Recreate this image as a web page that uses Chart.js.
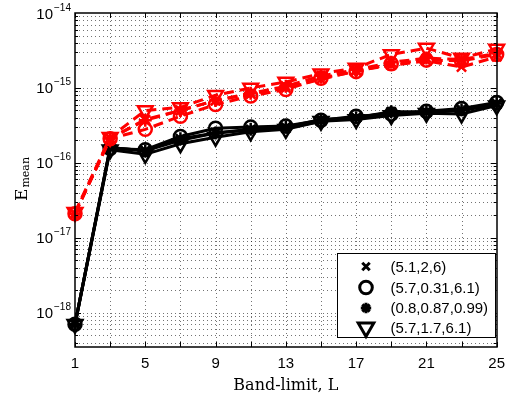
<!DOCTYPE html>
<html><head><meta charset="utf-8">
<script src="https://cdn.jsdelivr.net/npm/chart.js@4/dist/chart.umd.min.js"></script>
<style>html,body{margin:0;padding:0;background:#fff;overflow:hidden}canvas{display:block}</style>
</head><body>
<canvas id="c" width="513" height="395"></canvas>
<script>
// ---- data ----
const bandLimits = [1,3,5,7,9,11,13,15,17,19,21,23,25];
const xTickLabels = [1,5,9,13,17,21,25];
const yDecades = [-18,-17,-16,-15,-14];
const legendLabels = ['(5.1,2,6)','(5.7,0.31,6.1)','(0.8,0.87,0.99)','(5.7,1.7,6.1)'];
const xTitle = 'Band-limit, L';
const yTitleMain = 'E';
const yTitleSub = 'mean';

const blackCross    = [7.0e-19,1.60e-16,1.45e-16,2.00e-16,2.50e-16,2.75e-16,2.90e-16,3.60e-16,4.00e-16,4.70e-16,4.70e-16,5.00e-16,6.00e-16];
const blackCircle   = [7.0e-19,1.55e-16,1.50e-16,2.25e-16,2.90e-16,3.00e-16,3.10e-16,3.70e-16,4.20e-16,4.50e-16,4.90e-16,5.30e-16,6.40e-16];
const blackStar     = [7.0e-19,1.60e-16,1.45e-16,2.10e-16,2.50e-16,2.80e-16,3.00e-16,3.80e-16,4.00e-16,4.80e-16,4.80e-16,5.10e-16,6.20e-16];
const blackTriangle = [7.0e-19,1.50e-16,1.30e-16,1.80e-16,2.20e-16,2.60e-16,2.80e-16,3.60e-16,3.80e-16,4.30e-16,4.60e-16,4.50e-16,5.80e-16];

const redCross    = [2.1e-17,2.10e-16,3.80e-16,5.00e-16,6.80e-16,8.30e-16,1.00e-15,1.30e-15,1.70e-15,2.00e-15,2.30e-15,1.90e-15,2.60e-15];
const redCircle   = [2.1e-17,2.10e-16,2.80e-16,4.20e-16,6.00e-16,7.80e-16,9.50e-16,1.35e-15,1.65e-15,2.10e-15,2.35e-15,2.30e-15,2.80e-15];
const redStar     = [2.1e-17,2.15e-16,3.70e-16,5.00e-16,6.80e-16,8.50e-16,1.05e-15,1.45e-15,1.75e-15,2.20e-15,2.50e-15,2.40e-15,2.90e-15];
const redTriangle = [2.2e-17,2.20e-16,5.00e-16,5.50e-16,8.00e-16,1.00e-15,1.20e-15,1.55e-15,1.85e-15,2.80e-15,3.40e-15,2.50e-15,3.30e-15];

const Y_MIN = 3.49e-19, Y_MAX = 1e-14;

const markers = [
  {style:'crossRot', r:6.5, rot:0},
  {style:'circle',   r:6.5, rot:0},
  {style:'star',     r:6.5, rot:0},
  {style:'triangle', r:8.5, rot:180}
];

function ds(label, vals, color, dashed, m) {
  return {
    label, data: bandLimits.map((b,i)=>({x:b, y:vals[i]})),
    borderColor: color, backgroundColor: color, borderWidth: 3,
    borderDash: dashed ? [10,6] : [],
    pointStyle: m.style, pointRadius: m.r, pointRotation: m.rot,
    pointBorderColor: color, pointBackgroundColor: 'rgba(0,0,0,0)', pointBorderWidth: 2.5,
    pointHoverRadius: m.r, tension: 0, clip: false, fill: false
  };
}

const datasets = [
  ds('red '+legendLabels[0], redCross, '#ff0000', true, markers[0]),
  ds('red '+legendLabels[1], redCircle, '#ff0000', true, markers[1]),
  ds('red '+legendLabels[2], redStar, '#ff0000', true, markers[2]),
  ds('red '+legendLabels[3], redTriangle, '#ff0000', true, markers[3]),
  ds(legendLabels[0], blackCross, '#000000', false, markers[0]),
  ds(legendLabels[1], blackCircle, '#000000', false, markers[1]),
  ds(legendLabels[2], blackStar, '#000000', false, markers[2]),
  ds(legendLabels[3], blackTriangle, '#000000', false, markers[3])
];

function drawMarker(ctx, style, x, y, r, rotDeg) {
  ctx.beginPath();
  if (style === 'circle') {
    ctx.arc(x, y, r, 0, Math.PI*2);
  } else if (style === 'crossRot') {
    const d = r*0.62;
    ctx.moveTo(x-d,y-d); ctx.lineTo(x+d,y+d);
    ctx.moveTo(x-d,y+d); ctx.lineTo(x+d,y-d);
  } else if (style === 'star') {
    for (let k=0;k<4;k++){ const a=k*Math.PI/4; ctx.moveTo(x+Math.cos(a)*r*0.8,y+Math.sin(a)*r*0.8); ctx.lineTo(x-Math.cos(a)*r*0.8,y-Math.sin(a)*r*0.8); }
  } else if (style === 'triangle') {
    let rad = rotDeg*Math.PI/180;
    ctx.moveTo(x+Math.sin(rad)*r, y-Math.cos(rad)*r);
    for (let k=1;k<3;k++){ rad += 2*Math.PI/3; ctx.lineTo(x+Math.sin(rad)*r, y-Math.cos(rad)*r); }
    ctx.closePath();
  }
  ctx.stroke();
}

const matlabAxes = {
  id: 'matlabAxes',
  beforeDatasetsDraw(chart) {
    const {ctx, chartArea: a, scales: {x, y}} = chart;
    ctx.save();
    ctx.strokeStyle = 'rgba(0,0,0,0.55)';
    ctx.lineWidth = 1;
    ctx.setLineDash([1,3]);
    x.ticks.forEach(t => {
      if (t.value <= x.min || t.value >= x.max) return;
      const px = Math.round(x.getPixelForValue(t.value)) + 0.5;
      ctx.beginPath(); ctx.moveTo(px, a.top); ctx.lineTo(px, a.bottom); ctx.stroke();
    });
    for (let d=-19; d<=-14; d++) for (let k=1;k<=9;k++) {
      const v = k*Math.pow(10,d);
      if (v <= Y_MIN*1.0001 || v >= Y_MAX*0.9999) continue;
      const py = Math.round(y.getPixelForValue(v)) + 0.5;
      ctx.beginPath(); ctx.moveTo(a.left, py); ctx.lineTo(a.right, py); ctx.stroke();
    }
    ctx.restore();
  },
  afterDraw(chart) {
    const {ctx, chartArea: a, scales: {x, y}} = chart;
    ctx.save();
    ctx.setLineDash([]);
    ctx.strokeStyle = '#000';
    // ticks
    ctx.lineWidth = 1;
    for (let d=-19; d<=-14; d++) for (let k=1;k<=9;k++) {
      const v = k*Math.pow(10,d);
      if (v <= Y_MIN*1.0001 || v >= Y_MAX*0.9999) continue;
      const py = Math.round(y.getPixelForValue(v)) + 0.5;
      const len = k===1 ? 6 : 3;
      ctx.beginPath();
      ctx.moveTo(a.left, py); ctx.lineTo(a.left+len, py);
      ctx.moveTo(a.right, py); ctx.lineTo(a.right-len, py);
      ctx.stroke();
    }
    x.ticks.forEach(t => {
      const px = Math.round(x.getPixelForValue(t.value)) + 0.5;
      ctx.beginPath();
      ctx.moveTo(px, a.bottom); ctx.lineTo(px, a.bottom-5);
      ctx.moveTo(px, a.top); ctx.lineTo(px, a.top+5);
      ctx.stroke();
    });
    // box
    ctx.lineWidth = 1.5;
    ctx.strokeRect(Math.round(a.left), Math.round(a.top), Math.round(a.right)-Math.round(a.left), Math.round(a.bottom)-Math.round(a.top));
    // y tick labels
    ctx.fillStyle = '#000';
    yDecades.forEach(d => {
      const py = y.getPixelForValue(Math.pow(10,d));
      ctx.font = '15px "Liberation Sans", Arial, sans-serif';
      ctx.textAlign = 'right'; ctx.textBaseline = 'alphabetic';
      ctx.fillText('10', 53, py + 5.5);
      ctx.font = '10px "Liberation Sans", Arial, sans-serif';
      ctx.textAlign = 'left';
      ctx.fillText('\u2212' + Math.abs(d), 54, py - 2.5);
    });
    // x title
    ctx.font = '16px "DejaVu Serif", serif';
    ctx.textAlign = 'center'; ctx.textBaseline = 'alphabetic';
    ctx.fillText(xTitle, (a.left + a.right)/2, 390);
    // y title
    ctx.save();
    ctx.translate(27, 201);
    ctx.rotate(-Math.PI/2);
    ctx.textAlign = 'left';
    ctx.font = '17px "DejaVu Serif", serif';
    ctx.fillText(yTitleMain, 0, 0);
    const ew = ctx.measureText(yTitleMain).width;
    ctx.font = '11px "DejaVu Serif", serif';
    ctx.fillText(yTitleSub, ew + 1, 1.5);
    ctx.restore();
    // legend
    const lx = 337.5, ly = 253.5, lw = 158, lh = 84;
    ctx.fillStyle = '#fff';
    ctx.fillRect(lx, ly, lw, lh);
    ctx.lineWidth = 1;
    ctx.strokeStyle = '#000';
    ctx.strokeRect(lx, ly, lw, lh);
    const rows = [266.5, 287.5, 308, 327.5];
    const legR = [6, 6.3, 6.5, 9];
    ctx.font = '15px "Liberation Sans", Arial, sans-serif';
    ctx.textAlign = 'left'; ctx.textBaseline = 'middle';
    legendLabels.forEach((lab, i) => {
      ctx.strokeStyle = '#000';
      ctx.lineWidth = 3;
      drawMarker(ctx, markers[i].style, 366, rows[i], legR[i], markers[i].rot);
      ctx.fillStyle = '#000';
      ctx.fillText(lab, 390.5, rows[i] + 1);
    });
    ctx.restore();
  }
};

new Chart(document.getElementById('c'), {
  type: 'line',
  data: { datasets },
  options: {
    responsive: false, animation: false, devicePixelRatio: 1,
    layout: { padding: { top: 13, right: 12, left: 0, bottom: 0 } },
    plugins: { legend: { display: false }, tooltip: { enabled: false } },
    scales: {
      x: {
        type: 'linear', min: 1, max: 25,
        grid: { display: false, drawTicks: false }, border: { display: false },
        ticks: {
          stepSize: 2, autoSkip: false, maxRotation: 0, padding: 8, color: '#000',
          font: { family: '"Liberation Sans", Arial, sans-serif', size: 15 },
          callback: v => xTickLabels.includes(v) ? String(v) : ''
        },
        afterFit: s => { s.height = 48; }
      },
      y: {
        type: 'logarithmic', min: Y_MIN, max: Y_MAX,
        grid: { display: false, drawTicks: false }, border: { display: false },
        ticks: { display: false },
        afterFit: s => { s.width = 75; }
      }
    }
  },
  plugins: [matlabAxes]
});
</script>
</body></html>
